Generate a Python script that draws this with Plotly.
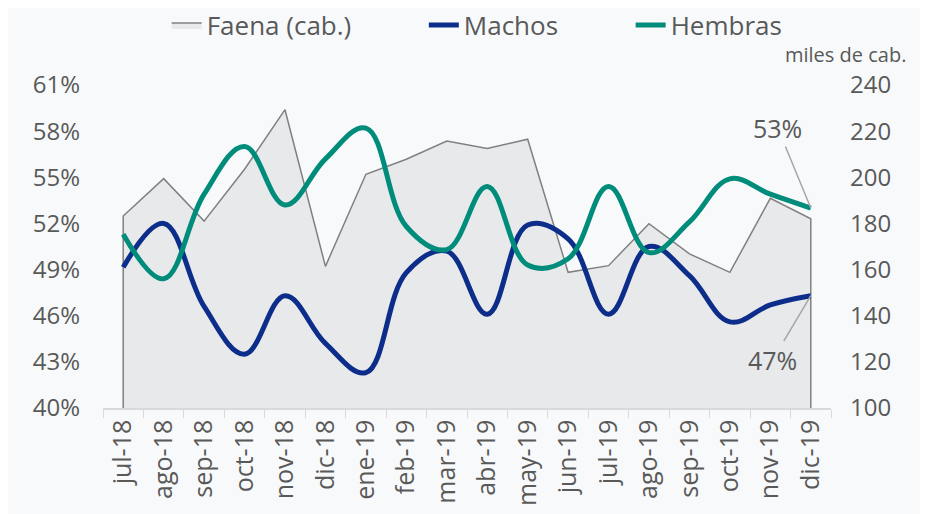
import plotly.graph_objects as go

months = ["jul-18", "ago-18", "sep-18", "oct-18", "nov-18", "dic-18", "ene-19", "feb-19", "mar-19",
          "abr-19", "may-19", "jun-19", "jul-19", "ago-19", "sep-19", "oct-19", "nov-19", "dic-19"]
faena = [183.2, 199.4, 181.0, 203.5, 229.3, 161.4, 201.3, 207.8, 215.7,
         212.5, 216.5, 158.8, 161.7, 179.9, 166.8, 158.8, 190.9, 182.0]
machos = [49.15, 52.0, 46.6, 43.5, 47.3, 44.2, 42.3, 48.8, 50.2,
          46.1, 51.9, 51.0, 46.1, 50.5, 48.6, 45.6, 46.7, 47.3]
hembras = [51.3, 48.4, 53.9, 57.0, 53.2, 56.2, 58.2, 51.8, 50.3,
           54.4, 49.3, 49.7, 54.4, 50.1, 52.1, 54.9, 53.9, 53.0]

left_ticks = [40, 43, 46, 49, 52, 55, 58, 61]
right_ticks = [100, 120, 140, 160, 180, 200, 220, 240]

FONT = "Open Sans"
TXT = "#595959"
BG = "#f8f9fb"
NB = "\u00a0"

fig = go.Figure()

# Area (closed outline so the vertical edges are drawn)
fig.add_trace(go.Scatter(
    x=[months[0]] + months + [months[-1]],
    y=[right_ticks[0]] + faena + [right_ticks[0]],
    name="Faena (cab.)" + NB * 10, mode="lines", fill="tozeroy",
    line=dict(color="#808080", width=1.5),
    fillcolor="#e8e9eb", yaxis="y",
))
fig.add_trace(go.Scatter(
    x=months, y=machos, name="Machos" + NB * 10, mode="lines",
    line=dict(color="#0c2d8a", width=5, shape="spline", smoothing=1.1),
    yaxis="y2",
))
fig.add_trace(go.Scatter(
    x=months, y=hembras, name="Hembras", mode="lines",
    line=dict(color="#008c7a", width=5, shape="spline", smoothing=1.1),
    yaxis="y2",
))

fig.update_layout(
    width=920, height=506,
    paper_bgcolor=BG, plot_bgcolor=BG,
    margin=dict(l=95, r=97, t=77, b=106, autoexpand=False),
    font=dict(family=FONT, color=TXT, size=22),
    showlegend=True,
    legend=dict(orientation="h", x=0.514, xanchor="center", y=0.966, yref="container",
                yanchor="middle", font=dict(size=26, color=TXT), bgcolor="rgba(0,0,0,0)",
                itemwidth=30, tracegroupgap=0),
    xaxis=dict(
        type="category", categoryorder="array", categoryarray=months,
        showgrid=False, showline=True, linecolor="#d9d9d9", linewidth=1.5,
        ticks="outside", tickson="boundaries", ticklen=8, tickcolor="#d9d9d9",
        tickangle=-90, tickfont=dict(size=25, color=TXT),
        range=[-0.5, len(months) - 0.5],
    ),
    yaxis=dict(
        side="right", range=[right_ticks[0], right_ticks[-1]],
        tickvals=right_ticks, ticktext=[str(v) for v in right_ticks],
        showgrid=False, zeroline=False, showline=False,
        tickfont=dict(size=24, color=TXT), ticks="", ticklabelstandoff=18,
    ),
    yaxis2=dict(
        side="left", overlaying="y", range=[left_ticks[0], left_ticks[-1]],
        tickvals=left_ticks, ticktext=[f"{v}%" for v in left_ticks],
        showgrid=False, zeroline=False, showline=False,
        tickfont=dict(size=24, color=TXT), ticks="", ticklabelstandoff=22,
    ),
)

fig.add_annotation(
    x=months[-1], y=hembras[-1], xref="x", yref="y2",
    text=f"{round(hembras[-1])}%", showarrow=True, arrowhead=0,
    arrowcolor="#a6a6a6", arrowwidth=1.5, ax=-33, ay=-80,
    font=dict(size=25, color=TXT),
)
fig.add_annotation(
    x=months[-1], y=machos[-1], xref="x", yref="y2",
    text=f"{round(machos[-1])}%", showarrow=True, arrowhead=0,
    arrowcolor="#a6a6a6", arrowwidth=1.5, ax=-38, ay=64,
    font=dict(size=25, color=TXT),
)
fig.add_annotation(
    x=1.106, y=1.095, xref="paper", yref="paper", text="miles de cab.",
    showarrow=False, xanchor="right", yanchor="middle",
    font=dict(size=20, color=TXT),
)

fig.write_html("out.html")
